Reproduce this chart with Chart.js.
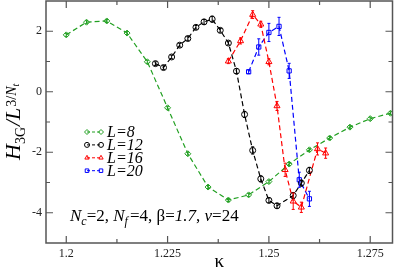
<!DOCTYPE html>
<html>
<head>
<meta charset="utf-8">
<script src="https://cdn.jsdelivr.net/npm/chart.js@4.4.1/dist/chart.umd.min.js"></script>
<style>
html, body { margin: 0; padding: 0; background: #fff; }
#chart { display: block; }
</style>
</head>
<body>
<canvas id="chart" width="395" height="270"></canvas>
<script>
// Data

const kappaL8 = [1.2, 1.205, 1.21, 1.215, 1.22, 1.225, 1.23, 1.235, 1.24, 1.245, 1.25, 1.255, 1.26, 1.265, 1.27, 1.275, 1.28];
const hL8     = [1.88, 2.30, 2.34, 1.94, 0.99, -0.53, -2.05, -3.15, -3.58, -3.41, -2.97, -2.39, -1.92, -1.53, -1.17, -0.89, -0.71];
const errL8   = [0.05, 0.05, 0.05, 0.05, 0.05, 0.05, 0.05, 0.05, 0.05, 0.05, 0.05, 0.05, 0.05, 0.05, 0.05, 0.05, 0.05];

const kappaL12 = [1.222, 1.224, 1.226, 1.228, 1.230, 1.232, 1.234, 1.236, 1.238, 1.240, 1.242, 1.244, 1.246, 1.248, 1.250, 1.252, 1.256, 1.258, 1.260];
const hL12     = [0.93, 0.80, 1.15, 1.54, 1.76, 2.13, 2.31, 2.40, 2.03, 1.61, 0.68, -0.75, -1.94, -2.88, -3.59, -3.77, -3.43, -3.02, -2.60];
const errL12   = [0.06, 0.06, 0.06, 0.06, 0.06, 0.06, 0.08, 0.1, 0.06, 0.06, 0.08, 0.1, 0.12, 0.1, 0.08, 0.08, 0.1, 0.1, 0.1];

const kappaL16 = [1.240, 1.243, 1.246, 1.248, 1.250, 1.252, 1.254, 1.256, 1.258, 1.262, 1.264];
const hL16     = [1.01, 1.68, 2.55, 2.23, 0.99, -0.47, -2.58, -3.62, -3.82, -1.89, -2.03];
const errL16   = [0.08, 0.1, 0.13, 0.1, 0.1, 0.15, 0.22, 0.27, 0.17, 0.2, 0.17];

const kappaL20 = [1.245, 1.2475, 1.25, 1.2525, 1.255, 1.2575, 1.26];
const hL20     = [0.66, 1.48, 1.96, 2.16, 0.69, -2.91, -3.54];
const errL20   = [0.06, 0.27, 0.3, 0.3, 0.25, 0.25, 0.25];

const seriesLabels = ['L=8', 'L=12', 'L=16', 'L=20'];
const xTicks = [1.2, 1.225, 1.25, 1.275];
const xMinor = [1.2125, 1.2375, 1.2625];
const yTicks = [-4, -2, 0, 2];
const yMinor = [-3, -1, 1];

const SERIF = '"Liberation Serif", "DejaVu Serif", serif';
const colors = ['#22a022', '#000000', '#ff0000', '#0000ff'];
const styles = ['rectRot', 'circle', 'triangle', 'rect'];

function toPoints(xs, ys) {
    return xs.map(function (x, i) { return { x: x, y: ys[i] }; });
}

function makeSet(i, xs, ys, errs) {
    return {
        label: seriesLabels[i],
        data: toPoints(xs, ys),
        err: errs,
        showLine: true,
        borderColor: colors[i],
        backgroundColor: 'rgba(0,0,0,0)',
        borderWidth: 1.2,
        borderDash: [5, 3],
        pointStyle: styles[i],
        pointRadius: i == 2 ? 3.5 : 3,
        pointBorderWidth: 1,
        pointBorderColor: colors[i],
        pointBackgroundColor: 'rgba(0,0,0,0)'
    };
}

// Draws a row of text pieces, each with its own size, style and shift.
function drawRuns(ctx, x, y, runs) {
    runs.forEach(function (r) {
        ctx.font = (r.italic ? 'italic ' : '') + r.size + 'px ' + SERIF;
        ctx.fillText(r.t, x, y + (r.dy || 0));
        x += ctx.measureText(r.t).width + (r.gap || 0);
    });
    return x;
}

// Vertical error bars
const errorBars = {
    id: 'errorBars',
    afterDatasetsDraw(chart) {
        const ctx = chart.ctx, xs = chart.scales.x, ys = chart.scales.y;
        ctx.save();
        chart.data.datasets.forEach(function (ds) {
            ctx.strokeStyle = ds.borderColor;
            ctx.lineWidth = 1;
            ds.data.forEach(function (p, i) {
                const e = ds.err[i];
                const px = xs.getPixelForValue(p.x);
                const y1 = ys.getPixelForValue(p.y + e);
                const y2 = ys.getPixelForValue(p.y - e);
                ctx.beginPath();
                ctx.moveTo(px, y1); ctx.lineTo(px, y2);
                ctx.moveTo(px - 1.5, y1); ctx.lineTo(px + 1.5, y1);
                ctx.moveTo(px - 1.5, y2); ctx.lineTo(px + 1.5, y2);
                ctx.stroke();
            });
        });
        ctx.restore();
    }
};

// Frame with inward ticks on all four sides
const frame = {
    id: 'frame',
    afterDraw(chart) {
        const ctx = chart.ctx, a = chart.chartArea;
        const xs = chart.scales.x, ys = chart.scales.y;
        ctx.save();
        ctx.strokeStyle = '#555';
        ctx.lineWidth = 1.5;
        ctx.strokeRect(a.left, a.top, a.right - a.left, a.bottom - a.top);
        ctx.lineWidth = 1.2;
        ctx.beginPath();
        function xt(v, len) {
            const p = xs.getPixelForValue(v);
            ctx.moveTo(p, a.bottom); ctx.lineTo(p, a.bottom - len);
            ctx.moveTo(p, a.top); ctx.lineTo(p, a.top + len);
        }
        function yt(v, len) {
            const p = ys.getPixelForValue(v);
            ctx.moveTo(a.left, p); ctx.lineTo(a.left + len, p);
            ctx.moveTo(a.right, p); ctx.lineTo(a.right - len, p);
        }
        xTicks.forEach(function (v) { xt(v, 7); });
        xMinor.forEach(function (v) { xt(v, 4); });
        yTicks.forEach(function (v) { yt(v, 7); });
        yMinor.forEach(function (v) { yt(v, 4); });
        ctx.stroke();
        ctx.restore();
    }
};

// Axis titles, legend and the parameter note
const labels = {
    id: 'labels',
    afterDraw(chart) {
        const ctx = chart.ctx, a = chart.chartArea;
        ctx.save();
        ctx.fillStyle = '#000';
        ctx.textBaseline = 'alphabetic';
        ctx.textAlign = 'left';

        // x title
        ctx.font = '19px ' + SERIF;
        ctx.textAlign = 'center';
        ctx.fillText('\u03ba', (a.left + a.right) / 2, 267);
        ctx.textAlign = 'left';

        // y title, rotated
        ctx.save();
        ctx.translate(20, 160);
        ctx.rotate(-Math.PI / 2);
        drawRuns(ctx, 0, 0, [
            { t: 'H', size: 22, italic: true },
            { t: '3G', size: 14, dy: 5, gap: 1 },
            { t: '/', size: 22, italic: true },
            { t: 'L', size: 22, italic: true, gap: 1 },
            { t: '3/', size: 14, dy: -4 },
            { t: 'N', size: 14, italic: true, dy: -4 },
            { t: 't', size: 10, italic: true, dy: -1 }
        ]);
        ctx.restore();

        // legend
        chart.data.datasets.forEach(function (ds, i) {
            const y = 132 + i * 12.9;
            ctx.strokeStyle = ds.borderColor;
            ctx.fillStyle = 'rgba(0,0,0,0)';
            ctx.lineWidth = 1;
            ctx.setLineDash([3, 2]);
            ctx.beginPath();
            ctx.moveTo(87, y); ctx.lineTo(101, y);
            ctx.stroke();
            ctx.setLineDash([]);
            [87, 101].forEach(function (px) {
                Chart.helpers.drawPoint(ctx, { pointStyle: ds.pointStyle, radius: 2.5, rotation: 0, borderWidth: 1 }, px, y);
            });
            ctx.fillStyle = '#000';
            drawRuns(ctx, 107, y + 5, [
                { t: 'L', size: 16, italic: true },
                { t: '=' + ds.label.slice(2), size: 16, italic: true }
            ]);
        });

        // parameter note
        drawRuns(ctx, 70, 221, [
            { t: 'N', size: 17, italic: true },
            { t: 'c', size: 12, italic: true, dy: 4 },
            { t: '=2, ', size: 17 },
            { t: 'N', size: 17, italic: true },
            { t: 'f', size: 12, italic: true, dy: 4, gap: 2 },
            { t: '=4, ', size: 17 },
            { t: '\u03b2=', size: 17 },
            { t: '1.7', size: 17, italic: true },
            { t: ', ', size: 17 },
            { t: 'v', size: 17, italic: true },
            { t: '=24', size: 17 }
        ]);
        ctx.restore();
    }
};

const ctx = document.getElementById('chart');

new Chart(ctx, {
    type: 'scatter',
    data: {
        datasets: [
            makeSet(0, kappaL8, hL8, errL8),
            makeSet(1, kappaL12, hL12, errL12),
            makeSet(2, kappaL16, hL16, errL16),
            makeSet(3, kappaL20, hL20, errL20)
        ]
    },
    options: {
        responsive: false,
        animation: false,
        devicePixelRatio: 1,
        layout: { autoPadding: false, padding: { top: 1, right: 2.5, left: 0, bottom: 0 } },
        plugins: {
            legend: { display: false },
            tooltip: { enabled: false }
        },
        scales: {
            x: {
                type: 'linear',
                min: 1.195,
                max: 1.2805,
                grid: { display: false, drawTicks: false },
                border: { display: false },
                ticks: {
                    autoSkip: false,
                    maxRotation: 0,
                    padding: 4,
                    color: '#222',
                    font: { family: SERIF, size: 12 },
                    callback: function (v) { return String(v); }
                },
                afterBuildTicks: function (s) { s.ticks = xTicks.map(function (v) { return { value: v }; }); },
                afterFit: function (s) { s.height = 27; s.paddingLeft = 0; s.paddingRight = 0; }
            },
            y: {
                type: 'linear',
                min: -5,
                max: 3,
                grid: { display: false, drawTicks: false },
                border: { display: false },
                ticks: {
                    autoSkip: false,
                    padding: 4,
                    color: '#222',
                    font: { family: SERIF, size: 12 },
                    callback: function (v) { return String(v); }
                },
                afterBuildTicks: function (s) { s.ticks = yTicks.map(function (v) { return { value: v }; }); },
                afterFit: function (s) { s.width = 46; s.paddingTop = 0; s.paddingBottom = 0; }
            }
        }
    },
    plugins: [errorBars, frame, labels]
});
</script>
</body>
</html>
